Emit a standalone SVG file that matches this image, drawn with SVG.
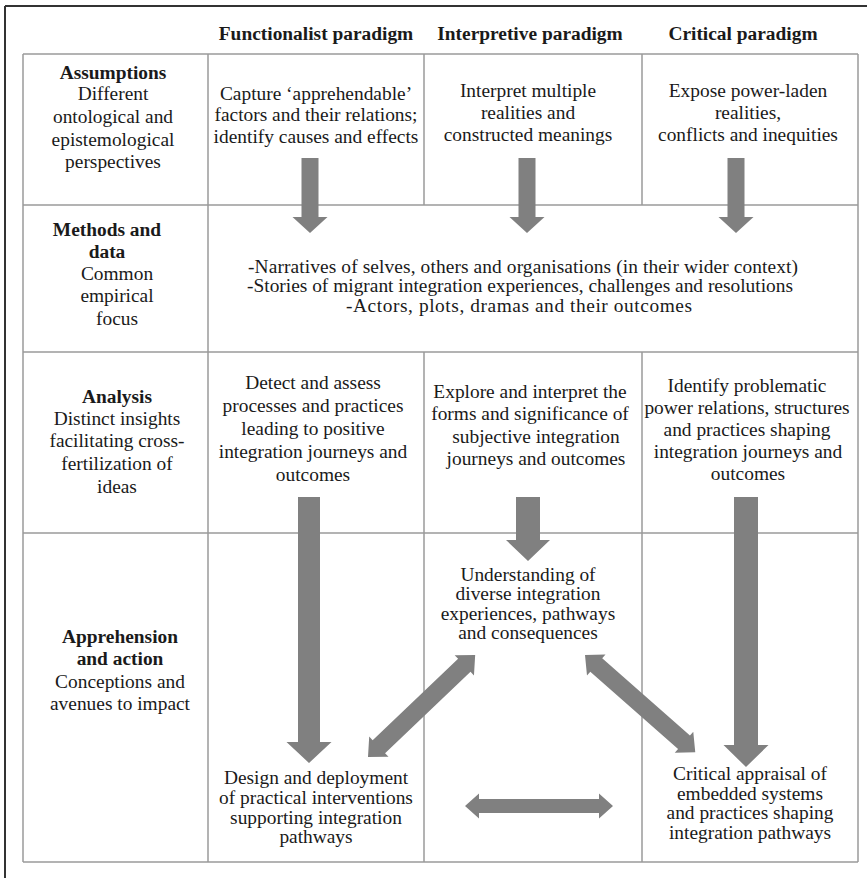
<svg xmlns="http://www.w3.org/2000/svg" width="867" height="878" viewBox="0 0 867 878">
<style>
text{font-size:19.4px;fill:#1a1a1a;text-anchor:middle}
.b{font-weight:bold}
.grid line{stroke:#9a9a9a;stroke-width:1.5}
.frame line{stroke:#333;stroke-width:2}
.arrow{fill:#808080}
</style>
<rect width="867" height="878" fill="#fff"/>
<g class="frame">
<line x1="5" y1="6" x2="867" y2="6"/>
<line x1="5" y1="6" x2="5" y2="878"/>
</g>
<g class="grid" id="table-grid">
<line x1="23" y1="54" x2="858" y2="54"/>
<line x1="23" y1="205" x2="858" y2="205"/>
<line x1="23" y1="352" x2="858" y2="352"/>
<line x1="23" y1="533" x2="858" y2="533"/>
<line x1="23" y1="862" x2="858" y2="862"/>
<line x1="23" y1="54" x2="23" y2="862"/>
<line x1="858" y1="54" x2="858" y2="862"/>
<line x1="208" y1="54" x2="208" y2="862"/>
<line x1="424" y1="54" x2="424" y2="205"/>
<line x1="424" y1="352" x2="424" y2="862"/>
<line x1="642" y1="54" x2="642" y2="205"/>
<line x1="642" y1="352" x2="642" y2="862"/>
</g>
<g font-family="Liberation Serif, Times New Roman, DejaVu Serif, serif">
<g id="header-functionalist"><text class="b" x="316" y="40">Functionalist paradigm</text></g>
<g id="header-interpretive"><text class="b" x="530" y="40">Interpretive paradigm</text></g>
<g id="header-critical"><text class="b" x="743" y="40">Critical paradigm</text></g>
<g id="label-assumptions">
<text class="b" x="113" y="79">Assumptions</text>
<text x="113" y="100">Different</text>
<text x="113" y="123">ontological and</text>
<text x="113" y="146">epistemological</text>
<text x="113" y="168">perspectives</text>
</g>
<g id="assump-functionalist">
<text x="316" y="100">Capture ‘apprehendable’</text>
<text x="316" y="121">factors and their relations;</text>
<text x="316" y="143">identify causes and effects</text>
</g>
<g id="assump-interpretive">
<text x="528" y="97">Interpret multiple</text>
<text x="528" y="119">realities  and</text>
<text x="528" y="141">constructed meanings</text>
</g>
<g id="assump-critical">
<text x="748" y="97">Expose power-laden</text>
<text x="748" y="119">realities,</text>
<text x="748" y="141">conflicts and inequities</text>
</g>
<g id="label-methods">
<text class="b" x="107" y="236">Methods and</text>
<text class="b" x="107" y="258">data</text>
<text x="117" y="280">Common</text>
<text x="117" y="302">empirical</text>
<text x="117" y="325">focus</text>
</g>
<g id="methods-common">
<text x="523" y="273" textLength="550" lengthAdjust="spacing">-Narratives of selves, others and organisations (in their wider context)</text>
<text x="520" y="292" textLength="546" lengthAdjust="spacing">-Stories of migrant integration experiences, challenges and resolutions</text>
<text x="519" y="312" textLength="346" lengthAdjust="spacing">-Actors, plots, dramas and their outcomes</text>
</g>
<g id="label-analysis">
<text class="b" x="117" y="403">Analysis</text>
<text x="117" y="425">Distinct insights</text>
<text x="117" y="447">facilitating cross-</text>
<text x="117" y="470">fertilization of</text>
<text x="117" y="493">ideas</text>
</g>
<g id="analysis-functionalist">
<text x="313" y="389">Detect and assess</text>
<text x="313" y="412">processes and practices</text>
<text x="313" y="435">leading to positive</text>
<text x="313" y="458">integration journeys and</text>
<text x="313" y="481">outcomes</text>
</g>
<g id="analysis-interpretive">
<text x="530" y="398">Explore and interpret the</text>
<text x="530" y="420">forms and significance of</text>
<text x="536" y="443">subjective integration</text>
<text x="536" y="465">journeys and outcomes</text>
</g>
<g id="analysis-critical">
<text x="747" y="392">Identify problematic</text>
<text x="747" y="414">power relations, structures</text>
<text x="747" y="436">and practices shaping</text>
<text x="748" y="458">integration journeys and</text>
<text x="748" y="480">outcomes</text>
</g>
<g id="label-apprehension">
<text class="b" x="120" y="643">Apprehension</text>
<text class="b" x="120" y="665">and action</text>
<text x="120" y="688">Conceptions and</text>
<text x="120" y="710">avenues to impact</text>
</g>
<g id="action-understanding">
<text x="528" y="581">Understanding of</text>
<text x="528" y="600">diverse integration</text>
<text x="528" y="620">experiences, pathways</text>
<text x="528" y="639">and consequences</text>
</g>
<g id="action-design">
<text x="316" y="784">Design and deployment</text>
<text x="316" y="804">of practical interventions</text>
<text x="316" y="824">supporting integration</text>
<text x="316" y="843">pathways</text>
</g>
<g id="action-critical">
<text x="750" y="780">Critical appraisal of</text>
<text x="750" y="800">embedded systems</text>
<text x="750" y="819">and practices shaping</text>
<text x="750" y="839">integration pathways</text>
</g>
</g>
<g id="connectors" class="arrow">
<polygon points="301.5,158 318.5,158 318.5,217 327.5,217 310,233 292.5,217 301.5,217"/>
<polygon points="518.5,158 535.5,158 535.5,217 544.5,217 527,233 509.5,217 518.5,217"/>
<polygon points="727.5,158 744.5,158 744.5,217 753.5,217 736,233 718.5,217 727.5,217"/>
<polygon points="298,497 320,497 320,742 331.5,742 309,763 286.5,742 298,742"/>
<polygon points="516,497 540,497 540,540 550,540 528,561 506,540 516,540"/>
<polygon points="734,497 758,497 758,745 768.5,745 746,767 723.5,745 734,745"/>
<polygon transform="translate(368,757) rotate(-43.6)" points="0,0 15,-14 15,-9 133,-9 133,-14 148,0 133,14 133,9 15,9 15,14"/>
<polygon transform="translate(585,655) rotate(41.4)" points="0,0 15,-14 15,-9 132,-9 132,-14 147,0 132,14 132,9 15,9 15,14"/>
<polygon transform="translate(465,806)" points="0,0 14,-12.5 14,-7 134,-7 134,-12.5 148,0 134,12.5 134,7 14,7 14,12.5"/>
</g>
</svg>
